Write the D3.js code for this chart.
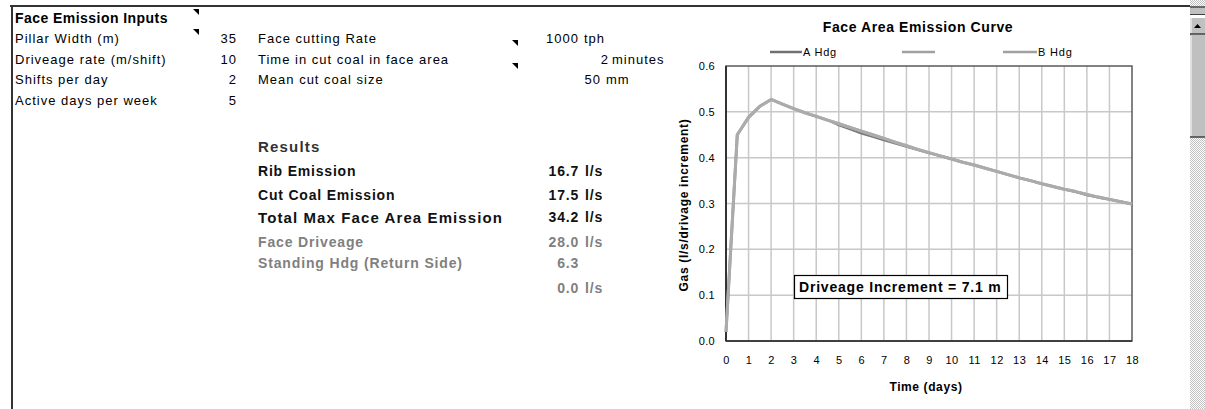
<!DOCTYPE html>
<html>
<head>
<meta charset="utf-8">
<script src="https://cdn.jsdelivr.net/npm/d3@7"></script>
<style>
  html, body { margin: 0; padding: 0; background: #fff; }
  svg text { font-family: "Liberation Sans", Arial, sans-serif; }
</style>
</head>
<body>
<svg id="chart" width="1205" height="409"></svg>
<script>
// ---------- Data ----------
const inputHeader = "Face Emission Inputs";
const inputLabels = ["Pillar Width (m)", "Driveage rate (m/shift)", "Shifts per day", "Active days per week"];
const inputValues = ["35", "10", "2", "5"];

const paramLabels = ["Face cutting Rate", "Time in cut coal in face area", "Mean cut coal size"];
const paramValues = ["1000", "2", "50"];
const paramUnits = ["tph", "minutes", "mm"];

const resultsHeader = "Results";
const resultLabels = ["Rib Emission", "Cut Coal Emission", "Total Max Face Area Emission", "Face Driveage", "Standing Hdg (Return Side)", ""];
const resultValues = ["16.7", "17.5", "34.2", "28.0", "6.3", "0.0"];
const resultUnits = ["l/s", "l/s", "l/s", "l/s", "", "l/s"];

const chartTitle = "Face Area Emission Curve";
const xAxisTitle = "Time (days)";
const yAxisTitle = "Gas (l/s/drivage increment)";
const annotation = "Driveage Increment = 7.1 m";
const seriesNames = ["A Hdg", "", "B Hdg"];
const xTicks = [0,1,2,3,4,5,6,7,8,9,10,11,12,13,14,15,16,17,18];
const yTicks = [0.0, 0.1, 0.2, 0.3, 0.4, 0.5, 0.6];

const days = [0,0.5,1,1.5,2,2.5,3,3.5,4,4.5,5,5.5,6,6.5,7,7.5,8,8.5,9,9.5,10,10.5,11,11.5,12,12.5,13,13.5,14,14.5,15,15.5,16,16.5,17,17.5,18];
const seriesA = [0.02,0.45,0.488,0.512,0.527,0.517,0.507,0.498,0.490,0.482,0.471,0.462,0.453,0.446,0.438,0.431,0.424,0.417,0.410,0.404,0.397,0.390,0.384,0.377,0.370,0.363,0.356,0.350,0.343,0.337,0.331,0.325,0.318,0.313,0.309,0.304,0.299];
const seriesMid = [0.02,0.45,0.488,0.512,0.527,0.517,0.507,0.498,0.490,0.482,0.474,0.466,0.458,0.450,0.442,0.434,0.426,0.418,0.411,0.404,0.397,0.390,0.384,0.377,0.370,0.363,0.356,0.350,0.343,0.337,0.331,0.326,0.320,0.314,0.309,0.304,0.299];
const seriesB = [0.02,0.45,0.488,0.512,0.527,0.517,0.507,0.498,0.490,0.482,0.474,0.466,0.458,0.450,0.442,0.434,0.426,0.418,0.411,0.404,0.397,0.390,0.384,0.377,0.370,0.363,0.356,0.350,0.343,0.337,0.331,0.326,0.320,0.314,0.309,0.304,0.299];

// ---------- Drawing ----------
const svg = d3.select("#chart");
svg.append("rect").attr("width", 1205).attr("height", 409).attr("fill", "#fff");

// sheet frame
svg.append("line").attr("x1", 10).attr("x2", 1190).attr("y1", 6).attr("y2", 6)
  .attr("stroke", "#333").attr("stroke-width", 2);
svg.append("line").attr("x1", 12).attr("x2", 12).attr("y1", 5).attr("y2", 409)
  .attr("stroke", "#333").attr("stroke-width", 2);

function txt(g, x, y, s, o) {
  o = o || {};
  return g.append("text").attr("x", x).attr("y", y).attr("dy", "0.35em")
    .attr("font-size", o.size || 13)
    .attr("font-weight", o.bold ? "bold" : "normal")
    .attr("letter-spacing", o.ls != null ? o.ls : 1)
    .attr("fill", o.fill || "#000")
    .attr("text-anchor", o.anchor || "start")
    .text(s);
}

const sheet = svg.append("g");
const rowY = [18.5, 38.5, 59, 79.5, 100];
txt(sheet, 15, rowY[0], inputHeader, {size: 14, bold: true, ls: 0.45});
inputLabels.forEach((l, i) => {
  txt(sheet, 15, rowY[i + 1], l, {size: 13, ls: 1});
  txt(sheet, 237, rowY[i + 1], inputValues[i], {size: 13, ls: 1, anchor: "end"});
});

const paramNumEnd = [579, 609, 601];
const paramUnitStart = [584, 612, 606];
paramLabels.forEach((l, i) => {
  txt(sheet, 258, rowY[i + 1], l, {size: 13, ls: 1});
  txt(sheet, paramNumEnd[i], rowY[i + 1], paramValues[i], {size: 13, ls: 1, anchor: "end"});
  txt(sheet, paramUnitStart[i], rowY[i + 1], paramUnits[i], {size: 13, ls: 1});
});

// comment indicators
[[193, 9], [193, 29], [512, 40], [512, 63]].forEach(p => {
  sheet.append("path").attr("d", `M${p[0]},${p[1]} L${p[0] + 6},${p[1]} L${p[0] + 6},${p[1] + 6} Z`)
    .attr("fill", "#000");
});

// results
txt(sheet, 258, 147, resultsHeader, {size: 15, bold: true, ls: 1.2, fill: "#333"});
const resY = [171.5, 195, 217.5, 242.5, 263.5, 288];
const resFill = ["#111", "#111", "#111", "#808080", "#808080", "#808080"];
const resSize = [14, 14, 15, 14, 14, 14];
const resLs = [0.8, 0.8, 1.1, 0.85, 0.85, 0.85];
resultLabels.forEach((l, i) => {
  if (l) txt(sheet, 258, resY[i], l, {size: resSize[i], bold: true, ls: resLs[i], fill: resFill[i]});
  txt(sheet, 579, resY[i], resultValues[i], {size: 14, bold: true, ls: 0.8, fill: resFill[i], anchor: "end"});
  if (resultUnits[i]) txt(sheet, 585, resY[i], resultUnits[i], {size: 14, bold: true, ls: 0.8, fill: resFill[i]});
});

// ---------- Chart ----------
const x = d3.scaleLinear().domain([0, 18]).range([726, 1132]);
const y = d3.scaleLinear().domain([0, 0.6]).range([341, 66]);
const chart = svg.append("g");

// gridlines
chart.append("g").selectAll("line.v").data(xTicks.slice(1, -1)).join("line")
  .attr("x1", d => x(d)).attr("x2", d => x(d)).attr("y1", y(0.6)).attr("y2", y(0))
  .attr("stroke", "#c8c8c8").attr("stroke-width", 1.5);
chart.append("g").selectAll("line.h").data(yTicks.slice(1, -1)).join("line")
  .attr("x1", x(0)).attr("x2", x(18)).attr("y1", d => y(d)).attr("y2", d => y(d))
  .attr("stroke", "#c8c8c8").attr("stroke-width", 1.5);

// plot frame
chart.append("rect").attr("x", x(0)).attr("y", y(0.6)).attr("width", x(18) - x(0)).attr("height", y(0) - y(0.6))
  .attr("fill", "none").attr("stroke", "#5a5a5a").attr("stroke-width", 1.5);
chart.append("line").attr("x1", x(0)).attr("x2", x(18)).attr("y1", y(0)).attr("y2", y(0))
  .attr("stroke", "#404040").attr("stroke-width", 2.2);
chart.append("line").attr("x1", x(0)).attr("x2", x(0)).attr("y1", y(0.6)).attr("y2", y(0))
  .attr("stroke", "#333").attr("stroke-width", 2);

// axes
const xAxis = chart.append("g").attr("transform", `translate(0,${y(0)})`)
  .call(d3.axisBottom(x).tickValues(xTicks).tickSize(0).tickPadding(15).tickFormat(d3.format("d")));
xAxis.select(".domain").remove();
xAxis.selectAll("text").attr("font-size", 11).attr("letter-spacing", 0.5).attr("fill", "#000")
  .attr("font-family", "Liberation Sans, Arial, sans-serif");

const yAxis = chart.append("g").attr("transform", `translate(${x(0)},0)`)
  .call(d3.axisLeft(y).tickValues(yTicks).tickSize(0).tickPadding(11).tickFormat(d3.format(".1f")));
yAxis.select(".domain").remove();
yAxis.selectAll("text").attr("font-size", 11).attr("letter-spacing", 0.3).attr("fill", "#000")
  .attr("font-family", "Liberation Sans, Arial, sans-serif");

// lines
const line = d3.line().x((d, i) => x(days[i])).y(d => y(d));
const seriesData = [seriesA, seriesMid, seriesB];
const seriesColor = ["#7a7a7a", "#a9a9a9", "#ababab"];
const seriesWidth = [2.2, 3, 3];
chart.append("path").datum(seriesA).attr("d", line).attr("fill", "none")
  .attr("stroke", seriesColor[0]).attr("stroke-width", seriesWidth[0]).attr("stroke-linejoin", "round");
chart.append("path").datum(seriesMid).attr("d", line).attr("fill", "none")
  .attr("stroke", seriesColor[1]).attr("stroke-width", seriesWidth[1]).attr("stroke-linejoin", "round");
chart.append("path").datum(seriesB).attr("d", line).attr("fill", "none")
  .attr("stroke", seriesColor[2]).attr("stroke-width", seriesWidth[2]).attr("stroke-linejoin", "round");

// legend
const legendLineX = [[770, 802], [902, 935], [1003, 1037]];
seriesNames.forEach((n, i) => {
  chart.append("line").attr("x1", legendLineX[i][0]).attr("x2", legendLineX[i][1])
    .attr("y1", 52).attr("y2", 52)
    .attr("stroke", i === 0 ? "#707070" : "#a0a0a0").attr("stroke-width", 2.5);
  if (n) txt(chart, legendLineX[i][1] + 1, 52, n, {size: 11, ls: 0.8});
});

// titles
txt(chart, 918, 27, chartTitle, {size: 14, bold: true, ls: 0.6, anchor: "middle"});
txt(chart, 926, 387, xAxisTitle, {size: 12, bold: true, ls: 0.6, anchor: "middle"});
chart.append("text").attr("transform", "translate(684,205) rotate(-90)")
  .attr("text-anchor", "middle").attr("dy", "0.35em")
  .attr("font-size", 12).attr("font-weight", "bold").attr("letter-spacing", 0.7)
  .text(yAxisTitle);

// annotation box
chart.append("rect").attr("x", 794.5).attr("y", 275.5).attr("width", 213).attr("height", 23)
  .attr("fill", "#fff").attr("stroke", "#000").attr("stroke-width", 1.2);
txt(chart, 799, 287, annotation, {size: 14, bold: true, ls: 0.8, fill: "#000"});

// ---------- Scrollbar ----------
const sb = svg.append("g");
const defs = svg.append("defs");
const pat = defs.append("pattern").attr("id", "dither").attr("width", 2).attr("height", 2)
  .attr("patternUnits", "userSpaceOnUse");
pat.append("rect").attr("width", 2).attr("height", 2).attr("fill", "#fff");
pat.append("rect").attr("width", 1).attr("height", 1).attr("fill", "#c0c0c0");
pat.append("rect").attr("x", 1).attr("y", 1).attr("width", 1).attr("height", 1).attr("fill", "#c0c0c0");
sb.append("rect").attr("x", 1190).attr("y", 0).attr("width", 15).attr("height", 409).attr("fill", "url(#dither)");
// split box
sb.append("rect").attr("x", 1190).attr("y", 8).attr("width", 15).attr("height", 6).attr("fill", "#c0c0c0");
sb.append("line").attr("x1", 1190).attr("x2", 1205).attr("y1", 14.5).attr("y2", 14.5).attr("stroke", "#404040");
sb.append("rect").attr("x", 1190).attr("y", 15).attr("width", 15).attr("height", 3).attr("fill", "#fff");
// up button
sb.append("rect").attr("x", 1190).attr("y", 18).attr("width", 15).attr("height", 16).attr("fill", "#c0c0c0");
sb.append("line").attr("x1", 1191).attr("x2", 1191).attr("y1", 18).attr("y2", 33).attr("stroke", "#fff");
sb.append("line").attr("x1", 1190).attr("x2", 1205).attr("y1", 34).attr("y2", 34).attr("stroke", "#404040").attr("stroke-width", 1.5);
sb.append("path").attr("d", "M1194,28 L1201,28 L1197.5,24 Z").attr("fill", "#000");
// thumb
sb.append("rect").attr("x", 1190).attr("y", 35).attr("width", 15).attr("height", 102).attr("fill", "#c0c0c0");
sb.append("line").attr("x1", 1191).attr("x2", 1191).attr("y1", 36).attr("y2", 136).attr("stroke", "#fff");
sb.append("line").attr("x1", 1190).attr("x2", 1205).attr("y1", 137).attr("y2", 137).attr("stroke", "#404040").attr("stroke-width", 1.5);
sb.append("line").attr("x1", 1190).attr("x2", 1205).attr("y1", 7).attr("y2", 7).attr("stroke", "#404040").attr("stroke-width", 1.5);
</script>
</body>
</html>
